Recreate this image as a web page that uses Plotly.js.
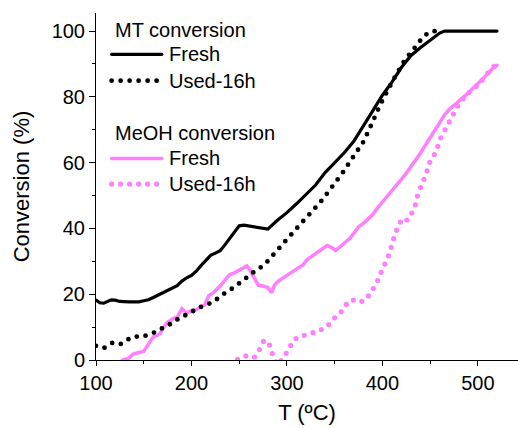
<!DOCTYPE html>
<html>
<head>
<meta charset="utf-8">
<script src="https://cdn.plot.ly/plotly-3.0.1.min.js"></script>
<style>
html, body { margin: 0; padding: 0; background: #fff; }
#chart { width: 518px; height: 428px; }
.js-line, .shapelayer path { stroke-linecap: round !important; }
</style>
</head>
<body>
<div id="chart"></div>
<script>
// ---- data ----
const mtFreshT = [100,104,108,112,116,120,125,135,145,150,155,160,165,170,175,180,185,190,195,200,205,210,215,220,225,230,235,240,245,250,255,260,270,280,290,300,310,320,330,340,350,360,370,380,390,400,410,420,430,440,450,460,465,520];
const mtFreshY = [18.2,17.4,17.3,17.8,18.3,18.2,17.8,17.7,17.7,18.0,18.3,19.0,19.7,20.5,21.2,21.8,22.6,24.0,25.0,25.7,27.0,28.7,30.2,31.8,32.5,33.2,35.0,37.0,39.0,40.8,41.0,40.8,40.3,39.8,42.5,44.8,47.5,50.5,53.2,57.0,60.0,63.0,66.5,71.0,75.8,80.5,84.5,89.0,92.6,95.0,97.3,99.4,100,100];

const mtUsedT = [100,108,117,125,133,140,148,156,165,171,179,189,198,206,215,224,232,240,248,255,263,271,279,288,296,304,311,319,327,335,343,351,359,366,373,380,386,391,396,401,406,412,418,424,430,436,442,448,455];
const mtUsedY = [4.3,3.6,5.2,4.7,6.2,7.2,7.0,8.0,8.8,10.0,11.1,13.1,14.1,15.8,16.6,17.9,19.8,21.2,22.7,24.4,26.3,27.8,29.8,32.6,35.5,38.0,40.3,42.8,45.2,48.0,51.0,54.0,57.2,60.3,63.2,66.3,70.0,73.5,76.5,79.5,82.5,85.5,88.5,91.5,93.5,95.8,98.0,99.5,100];

const meohFreshT = [125,128,134,139,145,150,153,157,160,164,167,171,175,178,181,185,190,192,195,200,205,210,214,218,223,230,236,240,245,250,255,258,261,264,267,270,275,280,284,287,291,295,300,305,312,317,321,326,330,336,342,347,351,356,361,366,370,375,380,385,390,395,400,405,410,415,420,425,430,435,440,445,450,455,460,465,470,475,480,485,490,495,500,505,510,515,520];
const meohFreshY = [-1,0,0.5,1.8,2.3,2.6,4.0,6.0,7.0,7.5,8.0,10.0,11.5,12.0,12.6,13.0,15.6,15.0,14.3,15.0,15.3,16.2,16.8,19.5,20.5,22.5,24.5,26.0,26.5,27.3,28.0,28.6,27.5,26.0,24.5,22.7,22.5,22.0,20.5,22.8,24.0,24.8,25.8,26.5,28.2,29.0,30.5,31.5,32.5,33.8,34.8,34.2,33.3,34.5,35.9,37.0,38.5,40.5,41.5,42.8,44.3,46.3,48.0,49.5,51.3,53.2,55.0,56.8,58.8,60.8,63.0,65.3,67.5,70.0,72.3,74.5,76.2,77.4,78.6,79.8,81.2,82.7,84.0,85.4,87.0,88.5,89.6];

const meohUsedT = [240,245,250,258,266,272,276,281,284,290,297,302,307,312,319,326,333,342,349,356,361,368,375,382,387,393,397,401,405,408,410,413,416,421,426,431,435,437,441,445,450,456,461,466,470,474,479,484,489,496,503,508,513,518,522];
const meohUsedY = [-1,0,0.3,1.4,0.9,3.5,6.0,5.2,2.4,-1.5,0.9,3.5,6.0,7.0,7.7,8.0,8.8,10.2,12.6,14.3,16.6,18.4,17.6,18.1,20.2,22.8,25.5,28.2,30.5,32.8,35.4,38.2,40.4,43.1,42.5,44.8,47.5,50.3,52.8,56.0,60.5,63.2,67.5,70.3,73.0,75.3,77.3,79.2,81.0,82.5,84.5,86.5,88.0,89.6,90.0];

const legendGroups = ['MT conversion', 'MeOH conversion'];
const legendItems = ['Fresh', 'Used-16h'];

// ---- styles ----
const FONT = 'Liberation Sans, Arial, sans-serif';
const BLACK = '#000000';
const PINK = '#ff80ff';
const DOTS = '0px,9px';

const traces = [
  {x: meohFreshT, y: meohFreshY, mode: 'lines', name: 'MeOH Fresh', showlegend: false,
   line: {color: PINK, width: 3.5}},
  {x: meohUsedT, y: meohUsedY, mode: 'lines', name: 'MeOH Used-16h', showlegend: false,
   line: {color: PINK, width: 5.2, dash: DOTS}},
  {x: mtFreshT, y: mtFreshY, mode: 'lines', name: 'MT Fresh', showlegend: false,
   line: {color: BLACK, width: 3.2}},
  {x: mtUsedT, y: mtUsedY, mode: 'lines', name: 'MT Used-16h', showlegend: false,
   line: {color: BLACK, width: 4.8, dash: DOTS}}
];

// hand-made legend (paper coordinates)
const lx0 = 0.037, lx1 = 0.156, ltx = 0.043, litx = 0.170;
const rows = {title1: 0.952, f1: 0.881, u1: 0.805, title2: 0.653, f2: 0.581, u2: 0.507};
const annFont = {family: FONT, size: 20, color: BLACK};
const annotations = [
  {text: legendGroups[0], x: ltx, y: rows.title1},
  {text: legendItems[0], x: litx, y: rows.f1},
  {text: legendItems[1], x: litx, y: rows.u1},
  {text: legendGroups[1], x: ltx, y: rows.title2},
  {text: legendItems[0], x: litx, y: rows.f2},
  {text: legendItems[1], x: litx, y: rows.u2}
].map(a => Object.assign({xref: 'paper', yref: 'paper', xanchor: 'left', yanchor: 'middle',
  showarrow: false, font: annFont, borderpad: 0}, a));

const shapes = [
  {y: rows.f1, line: {color: BLACK, width: 3.2}},
  {y: rows.u1, line: {color: BLACK, width: 4.8, dash: DOTS}},
  {y: rows.f2, line: {color: PINK, width: 3.5}},
  {y: rows.u2, line: {color: PINK, width: 5.2, dash: DOTS}}
].map(s => ({type: 'line', xref: 'paper', yref: 'paper', x0: lx0, x1: lx1, y0: s.y, y1: s.y, line: s.line}));

const axisCommon = {
  showgrid: false, zeroline: false, showline: true, linecolor: BLACK, linewidth: 1,
  ticks: 'outside', tickcolor: BLACK, tickwidth: 1,
  tickfont: {family: FONT, size: 20, color: BLACK}
};

const layout = {
  width: 518, height: 428,
  margin: {l: 96, r: 0, t: 13, b: 68, pad: 0},
  paper_bgcolor: '#ffffff', plot_bgcolor: '#ffffff',
  showlegend: false,
  font: {family: FONT, color: BLACK},
  xaxis: Object.assign({}, axisCommon, {
    range: [100, 542], tick0: 100, dtick: 100, ticklen: 5,
    minor: {dtick: 50, ticks: 'outside', ticklen: 3, tickcolor: BLACK, tickwidth: 1},
    title: {text: 'T (ºC)', font: {family: FONT, size: 22, color: BLACK}, standoff: 11}
  }),
  yaxis: Object.assign({}, axisCommon, {
    range: [0, 105.5], tick0: 0, dtick: 20, ticklen: 6,
    minor: {dtick: 10, ticks: 'outside', ticklen: 3, tickcolor: BLACK, tickwidth: 1},
    title: {text: '\u00a0\u00a0\u00a0\u00a0\u00a0Conversion (%)', font: {family: FONT, size: 22, color: BLACK}, standoff: 15}
  }),
  annotations: annotations,
  shapes: shapes
};

Plotly.newPlot('chart', traces, layout, {displayModeBar: false, staticPlot: true});
</script>
</body>
</html>
